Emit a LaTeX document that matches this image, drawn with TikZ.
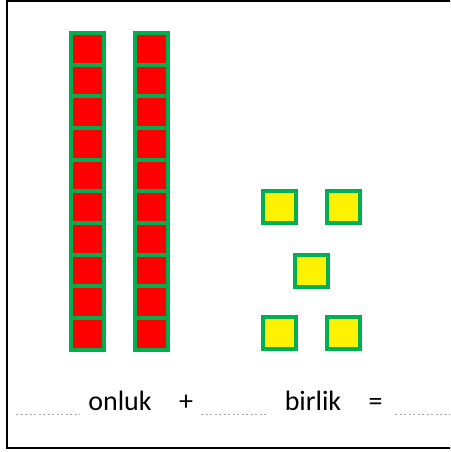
\documentclass[tikz,border=0pt]{standalone}
\usepackage{fontspec}
\setmainfont{Carlito}
\definecolor{boxgreen}{RGB}{0,176,80}
\definecolor{dotgray}{RGB}{165,165,165}
\tikzset{
  tencell/.style={draw=boxgreen,fill=red,line width=4pt,inner sep=0pt,minimum width=32.7pt,minimum height=31.7pt},
  onecell/.style={draw=boxgreen,fill=yellow,line width=4pt,inner sep=0pt,minimum width=32.7pt,minimum height=32.3pt},
  word/.style={anchor=base,inner sep=0pt,font=\fontsize{28}{32}\selectfont},
  blank/.style={dotgray,line width=1.5pt,dash pattern=on 2pt off 2.5pt}
}
\begin{document}
\begin{tikzpicture}[x=1pt,y=-1pt]
\useasboundingbox (0,0) rectangle (450,452);
\clip (0,0) rectangle (450,452);
\draw[line width=2pt] (7,1) rectangle (460,447.8);

% first ten
\node[tencell] (a1) at (87.35,48.8) {};
\node[tencell] (a2) at (87.35,80.5) {};
\node[tencell] (a3) at (87.35,112.2) {};
\node[tencell] (a4) at (87.35,143.8) {};
\node[tencell] (a5) at (87.35,175.5) {};
\node[tencell] (a6) at (87.35,207.2) {};
\node[tencell] (a7) at (87.35,238.8) {};
\node[tencell] (a8) at (87.35,270.5) {};
\node[tencell] (a9) at (87.35,302.2) {};
\node[tencell] (a10) at (87.35,333.8) {};

% second ten
\node[tencell] (b1) at (151.35,48.8) {};
\node[tencell] (b2) at (151.35,80.5) {};
\node[tencell] (b3) at (151.35,112.2) {};
\node[tencell] (b4) at (151.35,143.8) {};
\node[tencell] (b5) at (151.35,175.5) {};
\node[tencell] (b6) at (151.35,207.2) {};
\node[tencell] (b7) at (151.35,238.8) {};
\node[tencell] (b8) at (151.35,270.5) {};
\node[tencell] (b9) at (151.35,302.2) {};
\node[tencell] (b10) at (151.35,333.8) {};

% ones
\node[onecell] (u1) at (279.3,207.2) {};
\node[onecell] (u2) at (343.3,207.2) {};
\node[onecell] (u3) at (311.5,270.8) {};
\node[onecell] (u4) at (279.3,332.7) {};
\node[onecell] (u5) at (343.3,332.7) {};

\node[word] (onluk) at (120,410) {onluk};
\node[word] (plus) at (186,410) {+};
\node[word] (birlik) at (313,410) {birlik};
\node[word] (eq) at (375.5,410) {=};

\coordinate (d1a) at (16,414.5);
\coordinate (d1b) at (80,414.5);
\coordinate (d2a) at (201,414.5);
\coordinate (d2b) at (267,414.5);
\coordinate (d3a) at (395,414.5);
\coordinate (d3b) at (452,414.5);
\draw[blank] (d1a) -- (d1b);
\draw[blank] (d2a) -- (d2b);
\draw[blank] (d3a) -- (d3b);
\end{tikzpicture}
\end{document}
